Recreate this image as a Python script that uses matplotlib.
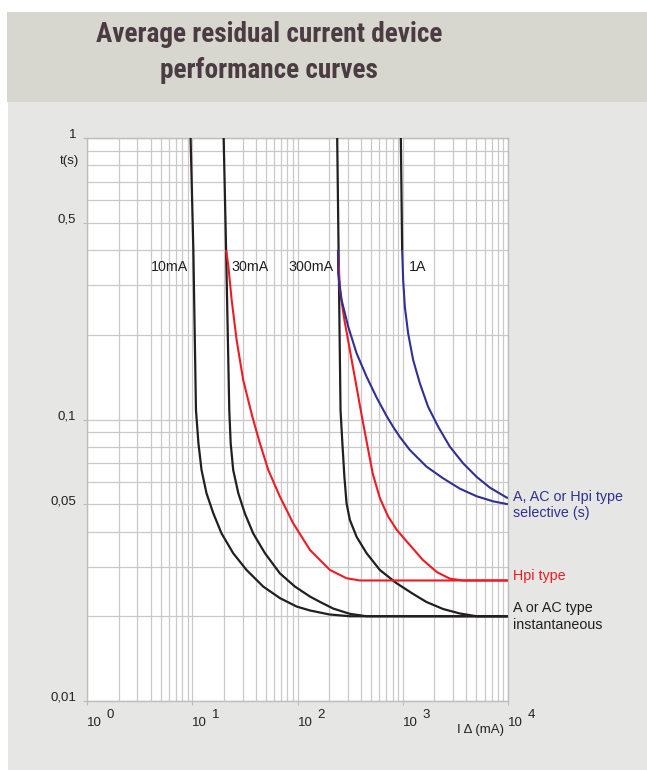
import numpy as np
import matplotlib
matplotlib.use("Agg")
import matplotlib.pyplot as plt
from matplotlib import font_manager
from matplotlib.patches import Rectangle
from matplotlib.ticker import LogLocator, NullFormatter

plt.rcParams['font.family'] = ['Liberation Sans', 'DejaVu Sans']

# ---- data (I in mA, t in s) ----
# instantaneous (black)
i_10ma = [9.6, 10.2, 10.8, 11.4, 12.2, 13.6, 15.8, 18.9, 24.4, 32.7, 47.1, 67.9, 97.8, 131, 200, 314, 10000]
t_10ma = [1.0, 0.40, 0.108, 0.0823, 0.0662, 0.0547, 0.0464, 0.0394, 0.0335, 0.0292, 0.0255, 0.0232, 0.02166, 0.02097, 0.0203, 0.020, 0.020]

i_30ma = [19.8, 20.8, 22.4, 23.1, 24.4, 27.3, 31.5, 37.8, 48.9, 67.9, 94.3, 131, 163, 218, 314, 453, 10000]
t_30ma = [1.0, 0.434, 0.108, 0.0823, 0.0662, 0.0547, 0.0464, 0.0394, 0.0335, 0.0284, 0.0255, 0.0235, 0.0225, 0.0213, 0.0204, 0.020, 0.020]

i_300ma = [238, 256, 266.6, 278.6, 292, 314, 364, 453, 606, 874, 1256, 1683, 2423, 3490, 5030, 10000]
t_300ma = [1.0, 0.108, 0.0823, 0.0626, 0.0504, 0.0440, 0.0383, 0.0335, 0.0292, 0.0262, 0.0240, 0.02247, 0.02122, 0.02046, 0.020, 0.020]

i_1a = [959, 987]
t_1a = [1.0, 0.40]

# Hpi type (red)
i_hpi_30 = [20.9, 21.9, 23.6, 26.3, 30.4, 37.2, 43.8, 52.6, 67.9, 90.8, 131, 203, 292, 391, 10000]
t_hpi_30 = [0.40, 0.354, 0.266, 0.1916, 0.138, 0.102, 0.0823, 0.0662, 0.0532, 0.0428, 0.0344, 0.0292, 0.0273, 0.0268, 0.0268]

i_hpi_300 = [244, 252.5, 278.6, 314, 358, 409, 456, 519.5, 606, 722, 879, 1169, 1554, 2113, 2810, 3727, 10000]
t_hpi_300 = [0.384, 0.2884, 0.2257, 0.1765, 0.1348, 0.1023, 0.0825, 0.0640, 0.0526, 0.0454, 0.0405, 0.0358, 0.0317, 0.0287, 0.0272, 0.0268, 0.0268]

# selective (blue)
i_sel_300 = [242, 243, 262, 303, 364, 453, 564, 702, 811, 938.6, 1169, 1683, 2423, 3490, 5030, 7230, 10000]
t_sel_300 = [0.400, 0.331, 0.266, 0.2137, 0.1718, 0.1419, 0.1197, 0.1029, 0.0941, 0.0867, 0.0779, 0.0680, 0.0618, 0.0568, 0.0534, 0.0512, 0.0500]

i_sel_1a = [987, 1009, 1047, 1125, 1256, 1454, 1742, 2171, 2803, 3750, 5030, 6730, 10000]
t_sel_1a = [0.400, 0.313, 0.2516, 0.2024, 0.1627, 0.1345, 0.1110, 0.0943, 0.0801, 0.0699, 0.0626, 0.0573, 0.0525]

y_ticks = [0.01, 0.05, 0.1, 0.5, 1]
y_tick_labels = ["0,01", "0,05", "0,1", "0,5", "1"]
x_decades = [0, 1, 2, 3, 4]

curve_labels = ["10mA", "30mA", "300mA", "1A"]

BLACK = "#231f20"
RED = "#ed1c24"
BLUE = "#2e3192"
GRID = "#c9c9c9"


def has_font(name):
    try:
        font_manager.findfont(name, fallback_to_default=False)
        return True
    except ValueError:
        return False


W, H = 647, 771
fig = plt.figure(figsize=(W / 100, H / 100), dpi=100)
fig.patch.set_facecolor("white")

# background panels
fig.patches.append(Rectangle((8 / W, 1 / H), 639 / W, 668 / H, transform=fig.transFigure,
                             facecolor="#e6e7e4", edgecolor="none", zorder=-10))
fig.patches.append(Rectangle((7 / W, 1 - 102 / H), 640 / W, 90 / H, transform=fig.transFigure,
                             facecolor="#d7d7cf", edgecolor="none", zorder=-10))

# title: condensed font if there is one, sized to the reference width
title_font = 'Liberation Sans'
target_w = 362
for cand in ['Roboto Condensed', 'Liberation Sans Narrow', 'DejaVu Sans Condensed']:
    if has_font(cand):
        title_font = cand
        target_w = 345
        break
t1 = fig.text(269 / W, 1 - 42 / H, "Average residual current device", ha="center", va="baseline",
              fontsize=20, fontweight="bold", color="#4b3b42", family=title_font)
t2 = fig.text(269 / W, 1 - 78 / H, "performance curves", ha="center", va="baseline",
              fontsize=20, fontweight="bold", color="#4b3b42", family=title_font)
renderer = fig.canvas.get_renderer()
w1 = t1.get_window_extent(renderer).width
size = min(26, 20 * target_w / w1)
t1.set_fontsize(size)
t2.set_fontsize(size)

ax = fig.add_axes([87.3 / W, 1 - 701 / H, 420.6 / W, 563 / H])
ax.set_facecolor("white")
ax.set_xscale("log")
ax.set_yscale("log")
ax.set_xlim(1, 1e4)
ax.set_ylim(0.01, 1)

kw = dict(solid_joinstyle="round", solid_capstyle="butt")
ax.plot(i_10ma, t_10ma, color=BLACK, lw=1.6, zorder=3, **kw)
ax.plot(i_30ma, t_30ma, color=BLACK, lw=1.6, zorder=3, **kw)
ax.plot(i_300ma, t_300ma, color=BLACK, lw=1.6, zorder=3, **kw)
ax.plot(i_1a, t_1a, color=BLACK, lw=1.6, zorder=3, **kw)
ax.plot(i_hpi_30, t_hpi_30, color=RED, lw=1.5, zorder=4, **kw)
ax.plot(i_hpi_300, t_hpi_300, color=RED, lw=1.5, zorder=4, **kw)
ax.plot(i_sel_300, t_sel_300, color=BLUE, lw=1.5, zorder=5, **kw)
ax.plot(i_sel_1a, t_sel_1a, color=BLUE, lw=1.5, zorder=5, **kw)

# grid
ax.xaxis.set_minor_locator(LogLocator(base=10, subs=np.arange(2, 10)))
ax.yaxis.set_minor_locator(LogLocator(base=10, subs=np.arange(2, 10)))
ax.xaxis.set_minor_formatter(NullFormatter())
ax.yaxis.set_minor_formatter(NullFormatter())
ax.grid(which="both", color=GRID, lw=0.9, zorder=1)
ax.set_axisbelow(True)
for s in ax.spines.values():
    s.set_color("#bdbdbd")
    s.set_linewidth(1.0)

ax.set_yticks(y_ticks)
ax.set_yticklabels(y_tick_labels)
for lbl in ax.get_yticklabels():
    lbl.set_verticalalignment("baseline")
ax.set_xticks([10 ** d for d in x_decades])
ax.set_xticklabels([])
ax.tick_params(which="major", length=3, color="#bdbdbd", labelsize=9.5, labelcolor="#222222", pad=5)
ax.tick_params(which="minor", length=0)
ax.text(-0.02, 0.959, "t(s)", transform=ax.transAxes, ha="right", va="center", fontsize=9.5, color="#222222")

# x tick labels 10 ^ n
for d in x_decades:
    ax.annotate("10", xy=(10 ** d, 0), xycoords=ax.get_xaxis_transform(), xytext=(0, -15.6),
                textcoords="offset points", ha="left", va="center", fontsize=9.5, color="#222222",
                annotation_clip=False)
    ax.annotate(str(d), xy=(10 ** d, 0), xycoords=ax.get_xaxis_transform(), xytext=(14.0, -10.0),
                textcoords="offset points", ha="left", va="center", fontsize=9.5, color="#222222",
                annotation_clip=False)
ax.annotate("I \u0394 (mA)", xy=(1, 0), xycoords="axes fraction", xytext=(-3, -21),
            textcoords="offset points", ha="right", va="center", fontsize=9.5, color="#222222",
            annotation_clip=False)

# curve labels
ax.text(9.06, 0.348, curve_labels[0], ha="right", va="center", fontsize=10.3, color=BLACK)
ax.text(23.6, 0.348, curve_labels[1], ha="left", va="center", fontsize=10.3, color=BLACK)
ax.text(221, 0.348, curve_labels[2], ha="right", va="center", fontsize=10.3, color=BLACK)
ax.text(1132, 0.348, curve_labels[3], ha="left", va="center", fontsize=10.3, color=BLACK)

# series labels on the right
ax.text(11140, 0.0532, "A, AC or Hpi type", ha="left", va="center", fontsize=10.3, color=BLUE, clip_on=False)
ax.text(11140, 0.0464, "selective (s)", ha="left", va="center", fontsize=10.3, color=BLUE, clip_on=False)
ax.text(11140, 0.0278, "Hpi type", ha="left", va="center", fontsize=10.3, color=RED, clip_on=False)
ax.text(11140, 0.0214, "A or AC type", ha="left", va="center", fontsize=10.3, color=BLACK, clip_on=False)
ax.text(11140, 0.0186, "instantaneous", ha="left", va="center", fontsize=10.3, color=BLACK, clip_on=False)

fig.savefig("out.png", dpi=100, facecolor=fig.get_facecolor())
